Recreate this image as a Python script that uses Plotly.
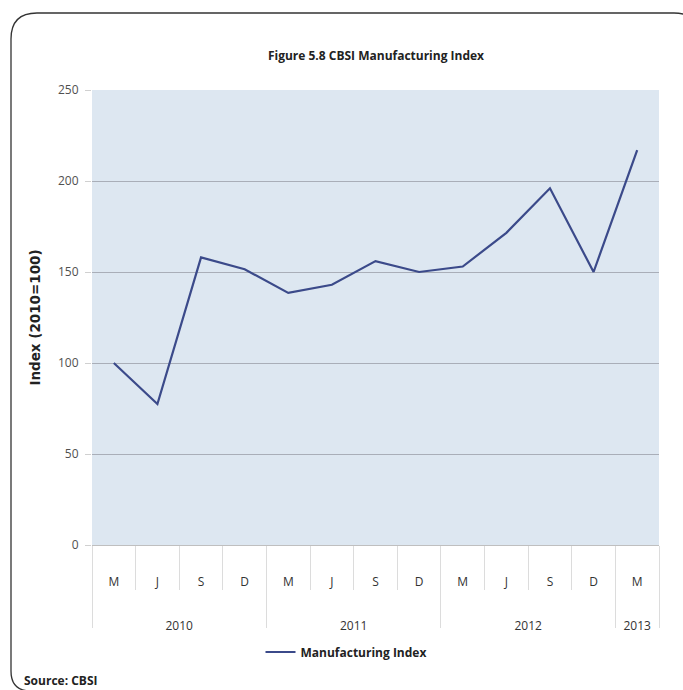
import plotly.graph_objects as go

months = ["M", "J", "S", "D", "M", "J", "S", "D", "M", "J", "S", "D", "M"]
year_labels = ["2010", "2011", "2012", "2013"]
year_counts = [4, 4, 4, 1]
index_values = [100, 77.5, 158, 151.5, 138.5, 143, 156, 150, 153, 171.5, 196, 150, 217]
y_ticks = [0, 50, 100, 150, 200, 250]

W, H = 683, 690
L, R, T, B = 92, 24, 90, 145
pw, ph = W - L - R, H - T - B

def px(x):
    return (x - L) / pw

def py(y):
    return (H - B - y) / ph

FONT = "Open Sans, sans-serif"

x_pos = list(range(len(months)))
# year centres and group boundaries, from the counts
year_centres, year_bounds = [], [-0.5]
start = 0
for c in year_counts:
    year_centres.append(start + (c - 1) / 2)
    start += c
    year_bounds.append(start - 0.5)
month_bounds = [i + 0.5 for i in x_pos[:-1]]

fig = go.Figure()
fig.add_trace(go.Scatter(
    x=x_pos, y=index_values, mode="lines",
    name="<b>Manufacturing Index</b>",
    line=dict(color="#3b4a8a", width=2.2),
))
# invisible trace to activate the year axis
fig.add_trace(go.Scatter(x=[x_pos[0]], y=[index_values[0]], xaxis="x2",
                         mode="markers", marker=dict(opacity=0),
                         showlegend=False, hoverinfo="skip"))

# rounded frame
r1, r2 = 26, 20
x0, y0, x1, y1 = 11, 13, 700, 691
path = (f"M {px(x0)},{py(y0 + r1)} L {px(x0)},{py(y1 - r2)} "
        f"Q {px(x0)},{py(y1)} {px(x0 + r2)},{py(y1)} "
        f"L {px(x1 - r2)},{py(y1)} Q {px(x1)},{py(y1)} {px(x1)},{py(y1 - r2)} "
        f"L {px(x1)},{py(y0 + r1)} Q {px(x1)},{py(y0)} {px(x1 - r1)},{py(y0)} "
        f"L {px(x0 + r1)},{py(y0)} Q {px(x0)},{py(y0)} {px(x0)},{py(y0 + r1)} Z")
fig.add_shape(type="path", path=path, xref="paper", yref="paper",
              line=dict(color="#333333", width=1.3), layer="above")

xr = [-0.5, len(months) - 0.5]
fig.update_layout(
    width=W, height=H,
    margin=dict(l=L, r=R, t=T, b=B),
    paper_bgcolor="white",
    plot_bgcolor="#dde7f1",
    font=dict(family=FONT, color="#404040", size=12),
    title=dict(text="<b>Figure 5.8 CBSI Manufacturing Index</b>",
               x=px(376), xref="paper", xanchor="center",
               y=1 - 56 / H, yanchor="middle",
               font=dict(size=12, color="#222222", family=FONT)),
    showlegend=True,
    legend=dict(orientation="h", x=px(346), xanchor="center",
                y=py(652), yanchor="middle",
                font=dict(size=12, color="#222222", family=FONT),
                itemwidth=30),
    annotations=[dict(text="<b>Source: CBSI</b>", xref="paper", yref="paper",
                      x=px(22), y=py(680), xanchor="left", yanchor="middle",
                      showarrow=False,
                      font=dict(size=12, color="#222222", family=FONT))],
    xaxis=dict(
        range=xr, tickmode="array", tickvals=x_pos, ticktext=months,
        showgrid=False, zeroline=False,
        showline=True, linecolor="#bfbfbf", linewidth=1,
        ticks="", ticklabelstandoff=26,
        tickfont=dict(size=12, color="#333333"),
        minor=dict(tickmode="array", tickvals=month_bounds, ticks="outside",
                   ticklen=44, tickcolor="#dcdcdc", tickwidth=1, showgrid=False),
    ),
    xaxis2=dict(
        range=xr, overlaying="x", anchor="y", side="bottom",
        tickmode="array", tickvals=year_centres, ticktext=year_labels,
        showgrid=False, zeroline=False, showline=False,
        ticks="", ticklabelstandoff=72,
        tickfont=dict(size=12, color="#333333"),
        minor=dict(tickmode="array", tickvals=year_bounds, ticks="outside",
                   ticklen=82, tickcolor="#dcdcdc", tickwidth=1, showgrid=False),
    ),
    yaxis=dict(
        range=[0, 250], tickvals=y_ticks,
        showgrid=True, gridcolor="#a9aeb8", gridwidth=1,
        zeroline=False, showline=False,
        ticks="outside", ticklen=6, tickcolor="#d0d0d0",
        ticklabelstandoff=4,
        tickfont=dict(size=12, color="#505050"),
        title=dict(text="<b>Index (2010=100)</b>", standoff=14,
                   font=dict(size=13.5, color="#222222", family="DejaVu Sans")),
    ),
)

fig.write_html("out.html")
